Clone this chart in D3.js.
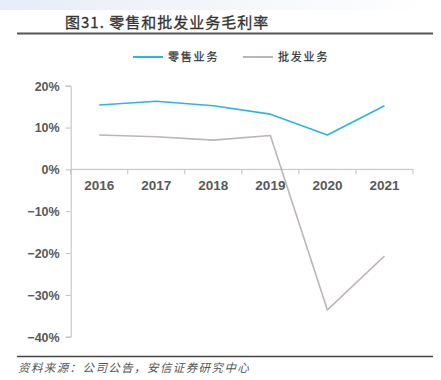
<!DOCTYPE html>
<head>
<meta charset="utf-8">
<style>
body { margin: 0; background: #fff; }
.line { fill: none; stroke-width: 1.6px; stroke-linejoin: round; }
.axis path, .axis line { stroke: #bfbfbf; }
.axis text { fill: #595959; font-family: "Liberation Sans", Arial, sans-serif; }
</style>
<script src="https://cdn.jsdelivr.net/npm/d3@7/dist/d3.min.js"></script>
</head>
<body>
<svg class="chart" width="441" height="380"></svg>
<script>
// Data
var years = ["2016", "2017", "2018", "2019", "2020", "2021"];
var retail = [15.4, 16.3, 15.2, 13.2, 8.2, 15.2];
var wholesale = [8.2, 7.8, 7.0, 8.1, -33.6, -20.7];
var yTicks = [20, 10, 0, -10, -20, -30, -40];
var seriesNames = ["零售业务", "批发业务"];
var seriesColors = ["#2cb4e6", "#bdb5b5"];

var svg = d3.select(".chart");
var cjk = "'Noto Sans CJK SC', sans-serif";

// Top band gradient
var defs = svg.append("defs");
var grad = defs.append("linearGradient").attr("id", "band");
grad.append("stop").attr("offset", "0%").attr("stop-color", "#e6edf8");
grad.append("stop").attr("offset", "100%").attr("stop-color", "#ffffff");
svg.append("rect").attr("x", 0).attr("y", 0).attr("width", 430).attr("height", 10).attr("fill", "url(#band)");

// Title and rules
svg.append("text").attr("x", 65).attr("y", 28)
  .attr("font-family", cjk).attr("font-size", 15).attr("fill", "#333")
  .attr("letter-spacing", 1.0).attr("stroke", "#333").attr("stroke-width", 0.3)
  .text("图31. 零售和批发业务毛利率");
svg.append("line").attr("x1", 17).attr("x2", 433).attr("y1", 33.5).attr("y2", 33.5)
  .attr("stroke", "#555").attr("stroke-width", 2);
svg.append("line").attr("x1", 17).attr("x2", 433).attr("y1", 356.5).attr("y2", 356.5)
  .attr("stroke", "#444").attr("stroke-width", 1.5);
svg.append("text").attr("x", 18).attr("y", 372)
  .attr("font-family", cjk).attr("font-size", 11.5).attr("font-style", "italic").attr("fill", "#555")
  .attr("letter-spacing", 1.4)
  .text("资料来源：公司公告，安信证券研究中心");

// Scales
var x = d3.scaleBand().domain(years).range([70.7, 413]);
var y = d3.scaleLinear().domain([-40, 20]).range([336.7, 85.7]);

// Y axis
var yAxis = svg.append("g").attr("class", "axis")
  .attr("transform", "translate(70.7,0)")
  .call(d3.axisLeft(y).tickValues(yTicks).tickSize(5).tickPadding(6)
    .tickFormat(function(d) { return (d < 0 ? "\u2212" + (-d) : d) + "%"; }));
yAxis.selectAll("text").attr("font-size", 12.5).attr("font-weight", "bold").attr("dy", "0.35em");

// X axis on zero line
var xAxis = svg.append("g").attr("class", "axis")
  .attr("transform", "translate(0," + y(0) + ")")
  .call(d3.axisBottom(x).tickSize(0).tickPadding(11));
xAxis.select(".domain").remove();
xAxis.append("line").attr("x1", 70.7).attr("x2", 413).attr("stroke", "#bfbfbf");
xAxis.selectAll(".sep").data(d3.range(years.length + 1)).enter().append("line")
  .attr("x1", function(i) { return 70.7 + i * x.step(); })
  .attr("x2", function(i) { return 70.7 + i * x.step(); })
  .attr("y1", 0).attr("y2", 5).attr("stroke", "#bfbfbf");
xAxis.selectAll("text").attr("font-size", 13.5).attr("font-weight", "bold").attr("dy", "0.71em");

// Lines
var line = d3.line()
  .x(function(d, i) { return x(years[i]) + x.bandwidth() / 2; })
  .y(function(d) { return y(d); });
[retail, wholesale].forEach(function(s, k) {
  svg.append("path").datum(s).attr("class", "line")
    .attr("stroke", seriesColors[k]).attr("d", line);
});

// Legend
var legendX = [133, 243];
seriesNames.forEach(function(name, k) {
  var g = svg.append("g").attr("transform", "translate(" + legendX[k] + ",57)");
  g.append("line").attr("x1", 0).attr("x2", 30).attr("stroke", seriesColors[k]).attr("stroke-width", 2);
  g.append("text").attr("x", 35).attr("y", 4).attr("font-family", cjk).attr("font-size", 11)
    .attr("letter-spacing", 1.8).attr("stroke", "#333").attr("stroke-width", 0.25)
    .attr("fill", "#333").text(name);
});
</script>
</body>
